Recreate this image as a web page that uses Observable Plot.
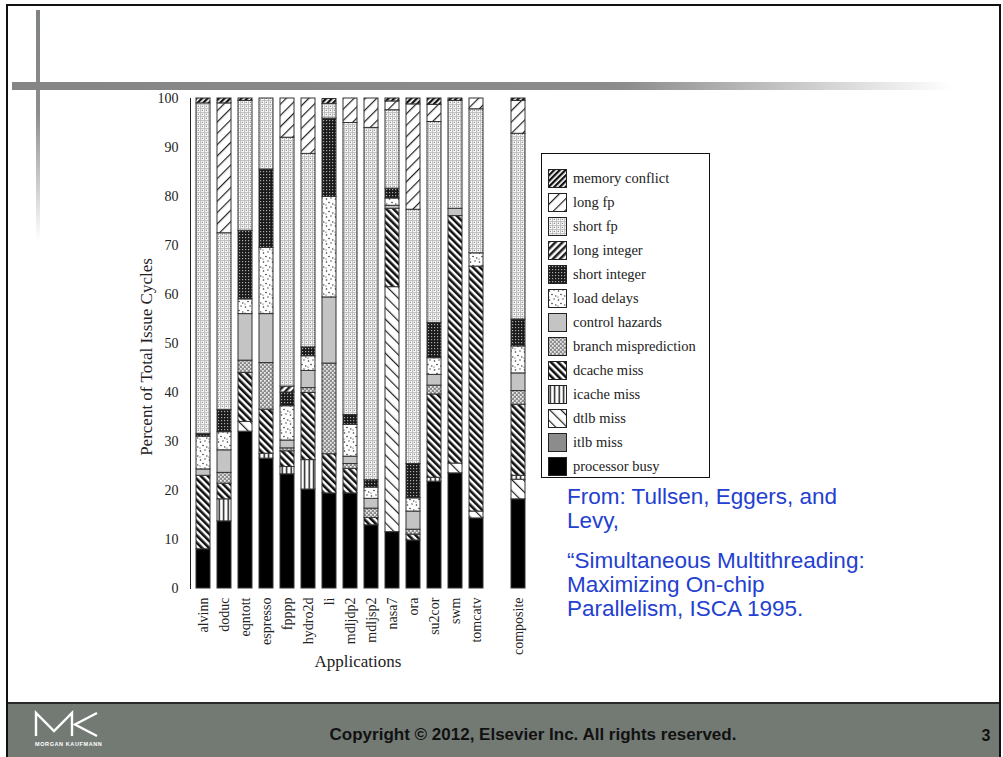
<!DOCTYPE html>
<html><head><meta charset="utf-8">
<script src="https://cdn.jsdelivr.net/npm/d3@7"></script>
<script src="https://cdn.jsdelivr.net/npm/@observablehq/plot@0.6"></script>
<style>
body{margin:0;width:1003px;height:757px;position:relative;background:#fff;overflow:hidden;font-family:"Liberation Serif",serif;}
.abs{position:absolute;}
.cite{position:absolute;left:567px;font-family:"Liberation Sans",Arial,sans-serif;font-size:22.5px;color:#2340d0;white-space:nowrap;line-height:24px;}
#legend{position:absolute;left:541px;top:153px;width:167px;height:323px;border:1px solid #111;background:#fff;}
#legend .row{position:absolute;left:6px;height:20px;display:flex;align-items:center;font-family:"Liberation Serif",serif;font-size:14.5px;color:#222;white-space:nowrap;}
#legend .row svg{margin-right:6px;}
</style></head><body>
<svg width="0" height="0" style="position:absolute;left:0;top:0">
<defs>
<pattern id="pMem" width="4" height="4" patternUnits="userSpaceOnUse" patternTransform="rotate(45)"><rect width="4" height="4" fill="#fff"/><rect width="2.3" height="4" fill="#111"/></pattern>
<pattern id="pLongFp" width="8" height="8" patternUnits="userSpaceOnUse" patternTransform="rotate(45)"><rect width="8" height="8" fill="#fff"/><rect width="1.2" height="8" fill="#222"/></pattern>
<pattern id="pShortFp" width="4" height="4" patternUnits="userSpaceOnUse"><rect width="4" height="4" fill="#f7f7f7"/><rect width="4" height="0.8" fill="#b8b8b8"/><rect width="0.8" height="4" fill="#b8b8b8"/><rect x="1.8" y="1.8" width="1" height="1" fill="#555"/></pattern>
<pattern id="pLongInt" width="5" height="5" patternUnits="userSpaceOnUse" patternTransform="rotate(45)"><rect width="5" height="5" fill="#fff"/><rect width="2.5" height="5" fill="#222"/></pattern>
<pattern id="pShortInt" width="3" height="3" patternUnits="userSpaceOnUse"><rect width="3" height="3" fill="#1a1a1a"/><rect x="1" y="1" width="1.2" height="1.2" fill="#aaa"/></pattern>
<pattern id="pLoad" width="9" height="9" patternUnits="userSpaceOnUse"><rect width="9" height="9" fill="#fff"/><circle cx="1.5" cy="2" r="0.8" fill="#333"/><circle cx="6" cy="1" r="0.7" fill="#333"/><circle cx="4" cy="5.5" r="0.8" fill="#333"/><circle cx="7.8" cy="7" r="0.7" fill="#333"/><circle cx="1" cy="8" r="0.6" fill="#333"/></pattern>
<pattern id="pBranch" width="4" height="4" patternUnits="userSpaceOnUse"><rect width="4" height="4" fill="#8e8e8e"/><rect width="1.7" height="1.7" fill="#eee"/><rect x="2" y="2" width="1.7" height="1.7" fill="#eee"/></pattern>
<pattern id="pDcache" width="5" height="5" patternUnits="userSpaceOnUse" patternTransform="rotate(-45)"><rect width="5" height="5" fill="#fff"/><rect width="2.6" height="5" fill="#111"/></pattern>
<pattern id="pIcache" width="4.5" height="4" patternUnits="userSpaceOnUse"><rect width="4.5" height="4" fill="#fff"/><rect x="1.5" width="1.4" height="4" fill="#111"/></pattern>
<pattern id="pDtlb" width="8" height="8" patternUnits="userSpaceOnUse" patternTransform="rotate(-45)"><rect width="8" height="8" fill="#fff"/><rect width="1.2" height="8" fill="#222"/></pattern>
<linearGradient id="gH" x1="0" x2="1" y1="0" y2="0"><stop offset="0" stop-color="#858585"/><stop offset="0.65" stop-color="#8c8c8c"/><stop offset="1" stop-color="#fff"/></linearGradient>
<linearGradient id="gV" x1="0" x2="0" y1="0" y2="1"><stop offset="0" stop-color="#7e8380"/><stop offset="0.45" stop-color="#8d8d8d"/><stop offset="1" stop-color="#fff"/></linearGradient>
</defs></svg>

<!-- slide frame -->
<div class="abs" style="left:6px;top:4px;width:991px;height:760px;border-left:2px solid #111;border-top:2px solid #111;border-right:2px solid #111;"></div>
<svg class="abs" style="left:0;top:0" width="1003" height="300">
  <rect x="36" y="10" width="4" height="230" fill="url(#gV)"/>
  <rect x="12" y="82" width="940" height="8" fill="url(#gH)"/>
</svg>

<div id="chart" class="abs" style="left:100px;top:80px;"></div>
<div class="abs" style="left:147px;top:357px;transform:translate(-50%,-50%) rotate(-90deg);font-family:'Liberation Serif',serif;font-size:17px;color:#222;white-space:nowrap;">Percent of Total Issue Cycles</div>
<div class="abs" style="left:358px;top:662px;transform:translate(-50%,-50%);font-family:'Liberation Serif',serif;font-size:17px;color:#222;white-space:nowrap;">Applications</div>

<div id="legend"></div>

<div class="cite" style="top:485px;">From: Tullsen, Eggers, and</div>
<div class="cite" style="top:509px;">Levy,</div>
<div class="cite" style="top:549px;">“Simultaneous Multithreading:</div>
<div class="cite" style="top:573px;">Maximizing On-chip</div>
<div class="cite" style="top:597px;">Parallelism, ISCA 1995.</div>

<!-- footer -->
<div class="abs" style="left:8px;top:702px;width:991px;height:55px;background:#737a74;border-top:2px solid #2a2a2a;"></div>
<svg class="abs" style="left:0;top:700px" width="120" height="57">
  <polyline points="36,36 36,13 54,31 72,13 72,36" fill="none" stroke="#fff" stroke-width="2.4"/>
  <polyline points="97,13 75,24.5 97,36" fill="none" stroke="#fff" stroke-width="2.4"/>
</svg>
<div class="abs" style="left:35px;top:741px;font-family:'Liberation Sans',sans-serif;font-size:5.5px;font-weight:bold;color:#fff;letter-spacing:0.6px;">MORGAN KAUFMANN</div>
<div class="abs" style="left:533px;top:735px;transform:translate(-50%,-50%);font-family:'Liberation Sans',Arial,sans-serif;font-size:17px;font-weight:bold;color:#111;white-space:nowrap;">Copyright © 2012, Elsevier Inc. All rights reserved.</div>
<div class="abs" style="left:986px;top:736px;transform:translate(-50%,-50%);font-family:'Liberation Sans',Arial,sans-serif;font-size:16px;font-weight:bold;color:#111;">3</div>

<script>
// ---- data ----
const apps = ["alvinn","doduc","eqntott","espresso","fpppp","hydro2d","li","mdljdp2","mdljsp2","nasa7","ora","su2cor","swm","tomcatv","composite"];
const xDomain = ["alvinn","doduc","eqntott","espresso","fpppp","hydro2d","li","mdljdp2","mdljsp2","nasa7","ora","su2cor","swm","tomcatv"," ","composite"];
// stacking order, bottom to top
const categories = ["processor busy","itlb miss","dtlb miss","icache miss","dcache miss","branch misprediction","control hazards","load delays","short integer","long integer","short fp","long fp","memory conflict"];
// legend order, top to bottom
const legendOrder = ["memory conflict","long fp","short fp","long integer","short integer","load delays","control hazards","branch misprediction","dcache miss","icache miss","dtlb miss","itlb miss","processor busy"];
const yTicks = [0,10,20,30,40,50,60,70,80,90,100];

const processorBusy = [8, 13.7, 32, 26.5, 23.3, 20.2, 19.4, 19.4, 12.9, 11.5, 9.8, 21.8, 23.5, 14.3, 18.2];
const itlbMiss      = [0, 0, 0, 0, 0, 0, 0, 0, 0, 0, 0, 0, 0, 0, 0];
const dtlbMiss      = [0, 0, 2, 0, 0, 0, 0, 0, 0, 50, 0, 0, 2, 1.4, 4];
const icacheMiss    = [0, 4.5, 0, 1, 1.5, 6, 0, 0, 0, 0, 0, 0.8, 0, 0, 0.8];
const dcacheMiss    = [15, 3.2, 10, 9, 3.2, 13.7, 8, 5, 1.5, 16, 1.2, 17, 50.5, 50, 14.5];
const branchMispred = [0, 2.2, 2.5, 9.5, 0.6, 1, 18.5, 1, 1.9, 0, 1, 1.8, 0, 0, 2.8];
const controlHaz    = [1.3, 4.6, 9.5, 10, 1.6, 3.5, 13.5, 1.5, 2, 0.6, 3.7, 2.2, 1.5, 0, 3.6];
const loadDelays    = [6.7, 3.7, 3, 13.5, 7, 3, 20.5, 6.5, 2.3, 1.5, 2.7, 3.4, 0, 2.7, 5.5];
const shortInteger  = [0.5, 4.5, 14, 16, 2.8, 1.8, 16, 2, 1.5, 2, 7, 7.2, 0, 0, 5.5];
const longInteger   = [0, 0, 0, 0, 1.2, 0, 0, 0, 0, 0, 0, 0, 0, 0, 0];
const shortFp       = [67.5, 36.1, 26.5, 14.5, 50.8, 39.5, 3, 59.6, 71.9, 16, 51.9, 41, 22, 29.4, 37.9];
const longFp        = [0, 26.5, 0, 0, 8, 11.3, 0, 5, 6, 1.8, 21.5, 3.5, 0, 2.2, 6.7];
const memConflict   = [1, 1, 0.5, 0, 0, 0, 1, 0, 0, 0.6, 1.2, 1.3, 0.5, 0, 0.5];

const seriesValues = [processorBusy, itlbMiss, dtlbMiss, icacheMiss, dcacheMiss, branchMispred, controlHaz, loadDelays, shortInteger, longInteger, shortFp, longFp, memConflict];
const fills = ["#000", "#8c8c8c", "url(#pDtlb)", "url(#pIcache)", "url(#pDcache)", "url(#pBranch)", "#c4c4c4", "url(#pLoad)", "url(#pShortInt)", "url(#pLongInt)", "url(#pShortFp)", "url(#pLongFp)", "url(#pMem)"];

const rows = [];
categories.forEach((c, i) => apps.forEach((a, j) => {
  const v = seriesValues[i][j];
  if (v > 0) rows.push({app: a, cat: c, value: v});
}));

const chart = Plot.plot({
  width: 460, height: 600,
  marginLeft: 90, marginRight: 30, marginTop: 18, marginBottom: 92,
  style: {fontFamily: "Liberation Serif, serif", fontSize: "14px", color: "#222", background: "transparent", overflow: "visible"},
  x: {domain: xDomain, paddingInner: 0.34, paddingOuter: 0.19, align: 0.5, tickSize: 0, tickPadding: 9, tickRotate: -90, label: null, tickFormat: d => d.trim()},
  y: {domain: [0, 100], ticks: yTicks, tickSize: 0, tickPadding: 12, label: null, line: true},
  color: {type: "ordinal", domain: categories, range: fills},
  marks: [
    Plot.barY(rows, {x: "app", y: "value", fill: "cat", stroke: "#333", strokeWidth: 1})
  ]
});
document.getElementById("chart").appendChild(chart);

// legend
const lg = document.getElementById("legend");
legendOrder.forEach((c, k) => {
  const row = document.createElement("div");
  row.className = "row";
  row.style.top = (14 + k * 24) + "px";
  const f = fills[categories.indexOf(c)];
  row.innerHTML = `<svg width="19" height="19"><rect x="0.5" y="0.5" width="18" height="18" fill="${f}" stroke="#222" stroke-width="1"/></svg><span>${c}</span>`;
  lg.appendChild(row);
});
</script>
</body></html>
